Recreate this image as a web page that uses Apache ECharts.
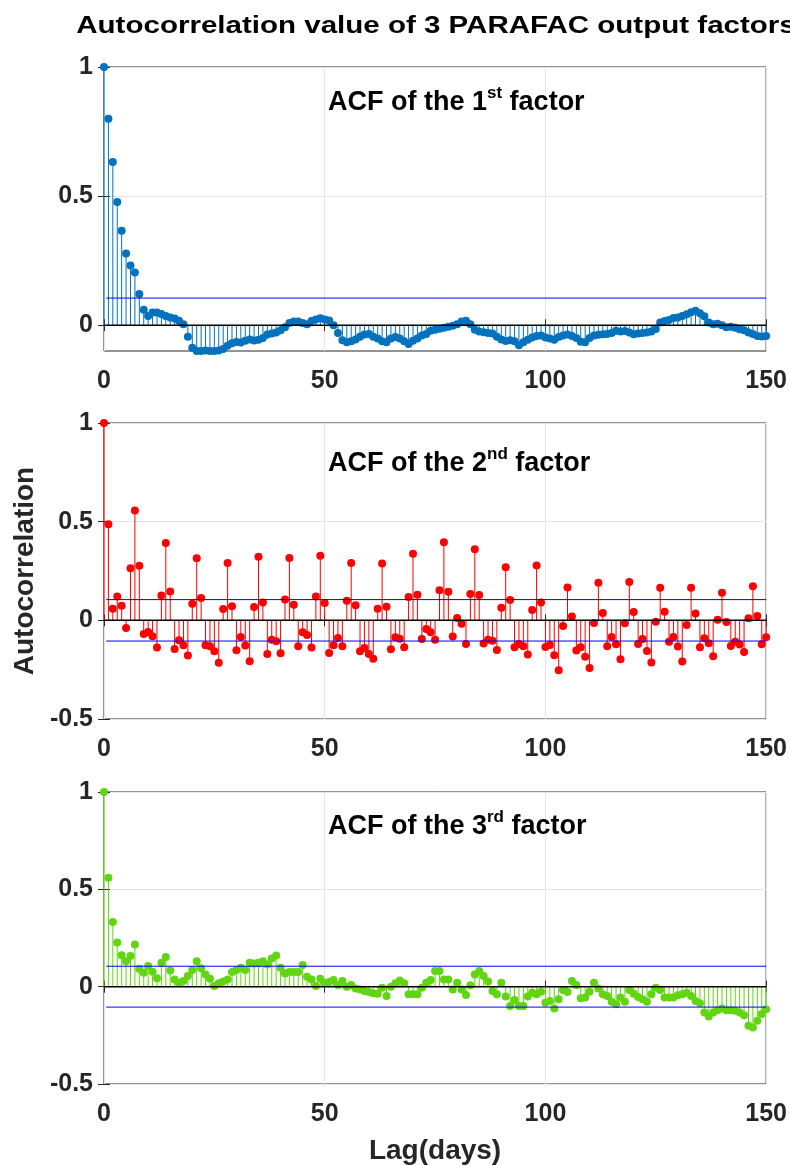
<!DOCTYPE html>
<html>
<head>
<meta charset="utf-8">
<script src="https://cdn.jsdelivr.net/npm/echarts@6/dist/echarts.min.js"></script>
<style>
html,body{margin:0;padding:0;background:#fff;}
#chart{width:790px;height:1166px;}
</style>
</head>
<body>
<div id="chart"></div>
<script>
// ---------------- data ----------------
const chartTitle = 'Autocorrelation value of 3 PARAFAC output factors';
const xName = 'Lag(days)';
const yName = 'Autocorrelation';
const factorNumbers = ['1', '2', '3'];
const factorSuffixes = ['st', 'nd', 'rd'];
const xTicks = [0, 50, 100, 150];
const yTicksTop = [0, 0.5, 1];
const yTicksOther = [-0.5, 0, 0.5, 1];
const confBounds = [0.105, -0.105];

const acf1 = [1.00,0.80,0.632,0.477,0.366,0.278,0.231,0.204,0.121,0.06,
0.036,0.049,0.049,0.043,0.036,0.030,0.026,0.017,0.004,-0.045,
-0.087,-0.100,-0.100,-0.098,-0.100,-0.100,-0.098,-0.092,-0.080,-0.070,
-0.065,-0.067,-0.060,-0.055,-0.059,-0.056,-0.050,-0.036,-0.032,-0.028,
-0.020,-0.008,0.008,0.014,0.014,0.008,0.004,0.016,0.022,0.027,
0.022,0.018,0.000,-0.030,-0.058,-0.066,-0.062,-0.055,-0.045,-0.036,
-0.034,-0.045,-0.052,-0.062,-0.066,-0.052,-0.046,-0.052,-0.062,-0.073,
-0.060,-0.052,-0.040,-0.034,-0.022,-0.018,-0.014,-0.010,-0.006,-0.002,
0.004,0.014,0.017,0.004,-0.018,-0.024,-0.027,-0.030,-0.032,-0.045,
-0.055,-0.061,-0.058,-0.062,-0.078,-0.066,-0.056,-0.048,-0.042,-0.040,
-0.048,-0.052,-0.056,-0.046,-0.040,-0.036,-0.042,-0.050,-0.064,-0.066,
-0.050,-0.040,-0.037,-0.035,-0.034,-0.030,-0.022,-0.024,-0.023,-0.028,
-0.035,-0.032,-0.030,-0.028,-0.024,-0.015,0.010,0.016,0.020,0.028,
0.030,0.036,0.042,0.050,0.056,0.046,0.035,0.010,0.004,0.006,
0.000,-0.008,-0.006,-0.010,-0.016,-0.020,-0.028,-0.034,-0.042,-0.044,
-0.042];

const acf2 = [1.0,0.487,0.059,0.121,0.074,-0.039,0.264,0.556,0.276,-0.069,
-0.059,-0.081,-0.138,0.126,0.392,0.146,-0.145,-0.101,-0.126,-0.178,
0.084,0.315,0.113,-0.126,-0.131,-0.157,-0.215,0.057,0.290,0.071,
-0.152,-0.084,-0.128,-0.207,0.067,0.322,0.091,-0.170,-0.098,-0.106,
-0.167,0.106,0.316,0.079,-0.131,-0.061,-0.074,-0.138,0.121,0.327,
0.088,-0.165,-0.126,-0.089,-0.131,0.099,0.291,0.076,-0.157,-0.140,
-0.170,-0.195,0.059,0.288,0.069,-0.146,-0.086,-0.093,-0.136,0.118,
0.338,0.130,-0.094,-0.044,-0.061,-0.098,0.153,0.396,0.145,-0.082,
0.012,-0.017,-0.120,0.133,0.360,0.128,-0.118,-0.098,-0.103,-0.150,
0.064,0.269,0.103,-0.136,-0.120,-0.131,-0.173,0.052,0.278,0.091,
-0.135,-0.125,-0.177,-0.253,-0.029,0.167,0.019,-0.153,-0.136,-0.184,
-0.242,-0.013,0.190,0.037,-0.131,-0.084,-0.121,-0.197,-0.015,0.194,
0.042,-0.120,-0.094,-0.155,-0.214,-0.007,0.165,0.044,-0.109,-0.084,
-0.133,-0.209,-0.024,0.165,0.034,-0.136,-0.091,-0.116,-0.182,0.003,
0.140,-0.008,-0.130,-0.108,-0.123,-0.160,0.010,0.173,0.022,-0.121,
-0.086];

const acf3 = [1.0,0.56,0.332,0.227,0.162,0.131,0.157,0.216,0.092,0.072,
0.106,0.077,0.043,0.123,0.153,0.083,0.037,0.020,0.029,0.055,
0.085,0.131,0.094,0.063,0.041,0.003,0.017,0.026,0.037,0.075,
0.085,0.097,0.085,0.123,0.119,0.123,0.131,0.114,0.145,0.160,
0.097,0.068,0.075,0.075,0.075,0.111,0.051,0.037,0.003,0.041,
0.020,0.024,0.034,0.009,0.029,0.000,0.009,-0.010,-0.014,-0.022,
-0.027,-0.034,-0.036,-0.005,-0.048,0.000,0.017,0.032,0.017,-0.039,
-0.039,-0.039,-0.005,0.020,0.034,0.080,0.080,0.037,0.037,-0.014,
0.020,-0.014,-0.043,0.007,0.063,0.080,0.055,0.026,-0.022,-0.039,
0.020,-0.051,-0.099,-0.068,-0.099,-0.099,-0.051,-0.031,-0.039,-0.026,
-0.082,-0.073,-0.112,-0.065,-0.017,-0.027,0.029,0.009,-0.060,-0.056,
-0.026,0.020,-0.010,-0.039,-0.048,-0.078,-0.090,-0.056,-0.078,-0.017,
-0.036,-0.053,-0.065,-0.078,-0.039,-0.005,-0.017,-0.056,-0.056,-0.056,
-0.044,-0.039,-0.031,-0.048,-0.073,-0.085,-0.133,-0.153,-0.133,-0.121,
-0.112,-0.121,-0.121,-0.124,-0.133,-0.147,-0.201,-0.210,-0.175,-0.141,
-0.116];

// ---------------- layout / style ----------------
const seriesData = [acf1, acf2, acf3];
const colors = ['#0072BD', '#FF0000', '#62D512'];
const yMins = [-0.1, -0.5, -0.5];
const yTickSets = [yTicksTop, yTicksOther, yTicksOther];
const gridTops = [67, 423, 792];
const gridHeights = [284, 296, 293];
const labelYs = [103, 463.5, 827];
const FONT = 'Liberation Sans';
const AX = '#262626';

const grids = [], xAxes = [], yAxes = [], series = [], graphics = [];

function hLine(i, x0, x1, y, color, width) {
  return {type: 'line', xAxisIndex: 2*i, yAxisIndex: 2*i, data: [[x0, y], [x1, y]],
    showSymbol: false, symbol: 'none', silent: true, z: 4, animation: false,
    lineStyle: {color: color, width: width, type: 'solid'}, emphasis: {disabled: true}};
}

for (let i = 0; i < 3; i++) {
  grids.push({left: 104, right: 23, top: gridTops[i], height: gridHeights[i],
    show: true, borderColor: AX, borderWidth: 1, backgroundColor: 'transparent'});

  const xMin = xTicks[0], xMax = xTicks[xTicks.length-1];
  const xBase = {type: 'value', gridIndex: i, min: xMin, max: xMax,
    interval: xTicks[1] - xTicks[0],
    axisLine: {show: false},
    axisTick: {show: true, inside: true, length: 6, lineStyle: {color: AX, width: 1}}};
  xAxes.push(Object.assign({}, xBase, {position: 'bottom',
    axisLabel: {show: true, fontSize: 25, fontWeight: 'bold', fontFamily: FONT, color: AX, margin: 18},
    splitLine: {show: true, lineStyle: {color: '#e5e5e5', width: 1}},
    name: i === 2 ? xName : '', nameLocation: 'middle', nameGap: 53,
    nameTextStyle: {fontSize: 28, fontWeight: 'bold', fontFamily: FONT, color: AX}}));
  xAxes.push(Object.assign({}, xBase, {position: 'top',
    axisLabel: {show: false}, splitLine: {show: false}}));

  const ticks = yTickSets[i];
  const yBase = {type: 'value', gridIndex: i, min: yMins[i], max: ticks[ticks.length-1],
    axisLine: {show: false},
    axisTick: {show: true, inside: true, length: 6, customValues: ticks, lineStyle: {color: AX, width: 1}}};
  yAxes.push(Object.assign({}, yBase, {position: 'left',
    axisLabel: {show: true, customValues: ticks, fontSize: 25, fontWeight: 'bold', fontFamily: FONT, color: AX, margin: 11},
    splitLine: {show: true, lineStyle: {color: '#e5e5e5', width: 1}},
    name: i === 1 ? yName : '', nameLocation: 'middle', nameGap: 64,
    nameTextStyle: {fontSize: 28, fontWeight: 'bold', fontFamily: FONT, color: AX}}));
  yAxes.push(Object.assign({}, yBase, {position: 'right',
    axisLabel: {show: false}, splitLine: {show: false}}));

  const pts = seriesData[i].map((v, k) => [k, v]);
  const col = colors[i];
  // stems
  series.push({
    type: 'custom', xAxisIndex: 2*i, yAxisIndex: 2*i, data: pts, silent: true, z: 2,
    renderItem: function (params, api) {
      const x = api.value(0), y = api.value(1);
      const p0 = api.coord([x, 0]);
      const p1 = api.coord([x, y]);
      return {type: 'line', shape: {x1: p0[0], y1: p0[1], x2: p1[0], y2: p1[1]},
        style: {stroke: col, lineWidth: 1}};
    }
  });
  // markers
  series.push({
    type: 'scatter', xAxisIndex: 2*i, yAxisIndex: 2*i, data: pts, symbol: 'circle',
    symbolSize: 8, itemStyle: {color: col, opacity: 1}, z: 3, silent: true, clip: false
  });
  // zero baseline
  series.push(hLine(i, xMin, xMax, 0, '#000000', 1.5));
  // confidence bounds
  confBounds.filter(b => b >= yMins[i]).forEach(b => {
    series.push(hLine(i, 0.5, xMax, b, '#0000FF', 1));
  });

  graphics.push({
    type: 'text', x: 328, y: labelYs[i], silent: true, z: 10,
    style: {
      text: '{a|ACF of the ' + factorNumbers[i] + '}{b|' + factorSuffixes[i] + '}{a| factor}',
      rich: {
        a: {fontSize: 27, fontWeight: 'bold', fontFamily: FONT, fill: '#000', lineHeight: 36},
        b: {fontSize: 17, fontWeight: 'bold', fontFamily: FONT, fill: '#000', verticalAlign: 'top'}
      },
      align: 'left', verticalAlign: 'middle', textAlign: 'left', textVerticalAlign: 'middle'
    }
  });
}

graphics.push({
  type: 'text', x: 436, y: 26, scaleX: 1.23, scaleY: 1, silent: true, z: 10,
  style: {text: chartTitle, font: 'bold 24px "' + FONT + '"', fill: '#000',
    align: 'center', verticalAlign: 'middle', textAlign: 'center', textVerticalAlign: 'middle'}
});

const chart = echarts.init(document.getElementById('chart'), null, {renderer: 'canvas'});
chart.setOption({
  backgroundColor: '#ffffff',
  animation: false,
  grid: grids,
  xAxis: xAxes,
  yAxis: yAxes,
  series: series,
  graphic: graphics
});
</script>
</body>
</html>
